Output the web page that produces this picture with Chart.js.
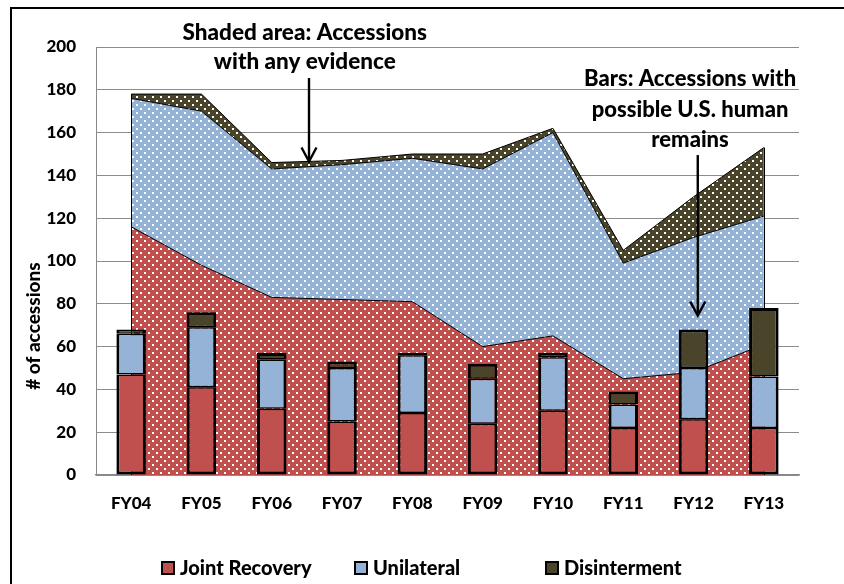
<!DOCTYPE html>
<html>
<head>
<meta charset="utf-8">
<script src="https://cdn.jsdelivr.net/npm/chart.js@4/dist/chart.umd.min.js"></script>
<style>
html,body{margin:0;padding:0;background:#fff;}
#wrap{width:844px;height:584px;position:relative;}
</style>
</head>
<body>
<div id="wrap"><canvas id="c" width="844" height="584"></canvas></div>
<script>
const categories = ['FY04','FY05','FY06','FY07','FY08','FY09','FY10','FY11','FY12','FY13'];
// Bars: accessions with possible U.S. human remains
const barJoint = [47,41,31,25,29,24,30,22,26,22];
const barUnilateral = [19,28,23,25,27,21,25,11,24,24];
const barDisinterment = [2,7,3,3,1,7,2,6,18,32];
// Shaded area: accessions with any evidence (stacked)
const areaJoint = [116,98,83,82,81,60,65,45,48,61];
const areaUnilateral = [60,72,60,63,67,83,95,54,63,60];
const areaDisinterment = [2,8,3,2,2,7,2,6,19,32];
const seriesNames = ['Joint Recovery','Unilateral','Disinterment'];
const yMax = 200, yStep = 20;

const COLORS = ['#C0504D','#95B3D7','#4A452A'];
const FONT = 'Lato, "Open Sans", sans-serif';
const W = '900';

function dotPattern(color){
  const p = document.createElement('canvas');
  p.width = 8; p.height = 8;
  const g = p.getContext('2d');
  g.fillStyle = color; g.fillRect(0,0,8,8);
  g.fillStyle = '#ffffff';
  g.fillRect(0,0,2,2);
  g.fillRect(4,4,2,2);
  return g.createPattern(p,'repeat');
}
const ctx0 = document.getElementById('c').getContext('2d');

const areaCommon = {type:'line', stack:'area', order:2, pointRadius:0, borderColor:'#000', borderWidth:1, tension:0};
const barCommon = {type:'bar', stack:'bars', order:1, borderColor:'#000', borderSkipped:false, barPercentage:0.42, categoryPercentage:1};

const framePlugin = {
  id:'frame',
  beforeDraw(chart){
    const c = chart.ctx;
    c.save();
    c.fillStyle='#fff'; c.fillRect(0,0,chart.width,chart.height);
    c.strokeStyle='#000'; c.lineWidth=2;
    c.strokeRect(11,8,900,700);
    c.restore();
  },
  afterDatasetDraw(chart, args){
    // side edges of the stacked area (drawn before the bars)
    if (args.index !== 0) return;
    const c = chart.ctx;
    const xs = chart.scales.x, ys = chart.scales.y;
    const n = categories.length;
    c.save();
    c.strokeStyle='#000'; c.lineWidth=1;
    [0, n-1].forEach(i=>{
      const top = areaJoint[i]+areaUnilateral[i]+areaDisinterment[i];
      const x = Math.round(xs.getPixelForValue(i))+0.5;
      c.beginPath(); c.moveTo(x, ys.getPixelForValue(top)); c.lineTo(x, ys.getPixelForValue(0)); c.stroke();
    });
    c.restore();
  },
  afterDraw(chart){
    const c = chart.ctx;
    const xs = chart.scales.x, ys = chart.scales.y;
    c.save();
    c.fillStyle='#000';
    c.textAlign='center'; c.textBaseline='middle';
    // y title
    c.save();
    c.translate(34,326);
    c.rotate(-Math.PI/2);
    c.font=W+' 19px '+FONT;
    c.fillText('# of accessions',0,0);
    c.restore();
    // annotations
    c.font=W+' 22.5px '+FONT;
    const ax1 = xs.getPixelForValue(2.47);
    c.fillText('Shaded area: Accessions', ax1, ys.getPixelForValue(206.5));
    c.fillText('with any evidence', ax1, ys.getPixelForValue(193));
    c.font=W+' 22px '+FONT;
    const ax2 = xs.getPixelForValue(7.95);
    c.fillText('Bars: Accessions with', ax2, ys.getPixelForValue(185));
    c.fillText('possible U.S. human', ax2, ys.getPixelForValue(170.6));
    c.fillText('remains', ax2, ys.getPixelForValue(156.5));
    function arrow(x, y0, y1){
      c.strokeStyle='#000'; c.lineWidth=2.4; c.lineCap='butt'; c.lineJoin='miter';
      c.beginPath(); c.moveTo(x,y0); c.lineTo(x,y1-1); c.stroke();
      c.beginPath(); c.moveTo(x-7.5,y1-14); c.lineTo(x,y1); c.lineTo(x+7.5,y1-14); c.stroke();
    }
    arrow(xs.getPixelForValue(2.53), ys.getPixelForValue(185.5), ys.getPixelForValue(146.5));
    arrow(xs.getPixelForValue(8.06), ys.getPixelForValue(149.5), ys.getPixelForValue(74.5));
    // legend
    c.font=W+' 20px '+FONT;
    c.textAlign='left';
    const lx = [161,354,545];
    const ly = 568;
    seriesNames.forEach((n,i)=>{
      c.fillStyle=COLORS[i];
      c.fillRect(lx[i]+1,ly-6,12,12);
      c.strokeStyle='#000'; c.lineWidth=2;
      c.strokeRect(lx[i]+1,ly-6,12,12);
      c.fillStyle='#000';
      c.fillText(n, lx[i]+19, ly+1);
    });
    c.restore();
  }
};

new Chart(ctx0, {
  data: {
    labels: categories,
    datasets: [
      Object.assign({}, areaCommon, {label:'Joint Recovery (any evidence)', data:areaJoint, backgroundColor:dotPattern(COLORS[0]), fill:'origin'}),
      Object.assign({}, areaCommon, {label:'Unilateral (any evidence)', data:areaUnilateral, backgroundColor:dotPattern(COLORS[1]), fill:'-1'}),
      Object.assign({}, areaCommon, {label:'Disinterment (any evidence)', data:areaDisinterment, backgroundColor:dotPattern(COLORS[2]), fill:'-1'}),
      Object.assign({}, barCommon, {label:seriesNames[0], data:barJoint, backgroundColor:COLORS[0], borderWidth:{top:1.5,bottom:3,left:3,right:3}}),
      Object.assign({}, barCommon, {label:seriesNames[1], data:barUnilateral, backgroundColor:COLORS[1], borderWidth:{top:1.5,bottom:1.5,left:3,right:3}}),
      Object.assign({}, barCommon, {label:seriesNames[2], data:barDisinterment, backgroundColor:COLORS[2], borderWidth:{top:3,bottom:1.5,left:3,right:3}})
    ]
  },
  options: {
    responsive:false,
    animation:false,
    devicePixelRatio:1,
    layout:{padding:{left:0,right:45,top:47,bottom:0}},
    plugins:{legend:{display:false}, tooltip:{enabled:false}, title:{display:false}},
    scales:{
      x:{
        stacked:true,
        offset:true,
        grid:{display:false, drawTicks:false},
        border:{display:true, color:'#888', width:1.5},
        ticks:{color:'#000', font:{family:FONT, weight:W, size:17}, padding:18, maxRotation:0},
        afterFit(s){ s.height = 109; }
      },
      y:{
        stacked:true,
        min:0, max:yMax,
        grid:{color:'#8c8c8c', lineWidth:1, drawTicks:false},
        border:{display:true, color:'#888', width:1},
        ticks:{stepSize:yStep, color:'#000', font:{family:FONT, weight:W, size:17}, padding:20},
        afterFit(s){ s.width = 96; }
      }
    }
  },
  plugins:[framePlugin]
});
</script>
</body>
</html>
